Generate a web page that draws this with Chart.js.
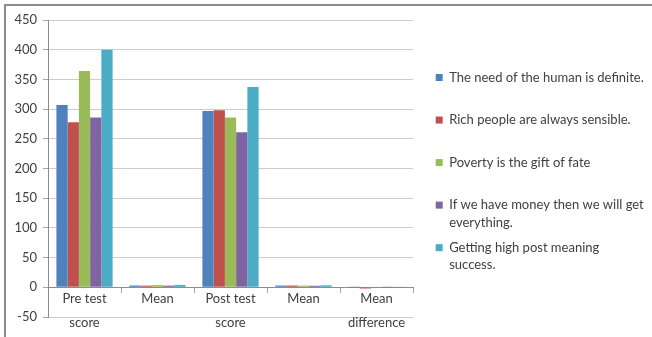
<!DOCTYPE html>
<html>
<head>
<meta charset="utf-8">
<title>Score chart</title>
<script src="https://cdn.jsdelivr.net/npm/chart.js@4/dist/chart.umd.min.js"></script>
<style>
    html, body { margin: 0; padding: 0; background: #fff; }
    #wrap { position: relative; width: 652px; height: 337px; }
</style>
</head>
<body>
<div id="wrap"><canvas id="scoreChart" width="652" height="337"></canvas></div>
<script>
// Categories on the x axis (multi-line labels as arrays)
const categories = [['Pre test', 'score'], 'Mean', ['Post test', 'score'], 'Mean', ['Mean', 'difference']];

// Statement labels for the legend
const statements = [
    'The need of the human is definite.',
    'Rich people are always sensible.',
    'Poverty is the gift of fate',
    ['If we have money then we will get', 'everything.'],
    ['Getting high post meaning', 'success.']
];

// Values per statement: pre score, mean, post score, mean, mean difference
const needValues = [307, 3.07, 297, 2.97, 0.1];
const richValues = [278, 2.78, 298, 2.98, -2];
const povertyValues = [364, 3.64, 286, 2.86, 0.78];
const moneyValues = [286, 2.86, 261, 2.61, 0.25];
const postValues = [400, 4.0, 337, 3.37, 0.63];

const yTicks = [-50, 0, 50, 100, 150, 200, 250, 300, 350, 400, 450];

const colors = ['#4F81BD', '#C0504D', '#9BBB59', '#8064A2', '#4BACC6'];
const seriesValues = [needValues, richValues, povertyValues, moneyValues, postValues];

Chart.defaults.font.family = 'Lato';
Chart.defaults.font.size = 13;
Chart.defaults.color = '#404040';

// Gray frame along the top and left edge
const framePlugin = {
    id: 'frame',
    beforeDraw(chart) {
        const ctx = chart.ctx;
        ctx.save();
        ctx.strokeStyle = '#8c8c8c';
        ctx.lineWidth = 2;
        ctx.beginPath();
        ctx.moveTo(5, chart.height);
        ctx.lineTo(5, 5);
        ctx.lineTo(chart.width, 5);
        ctx.stroke();
        ctx.restore();
    }
};

// Leave a gap between the plot and the legend, and nudge it down a bit
const legendGap = {
    id: 'legendGap',
    afterLayout(chart) {
        const lg = chart.legend;
        if (lg) {
            lg.left += 15;
            lg.right += 15;
            lg.top += 5;
            lg.bottom += 5;
        }
    }
};

new Chart(document.getElementById('scoreChart'), {
    type: 'bar',
    data: {
        labels: categories,
        datasets: statements.map((label, i) => ({
            label: label,
            data: seriesValues[i],
            backgroundColor: colors[i],
            borderWidth: 0,
            categoryPercentage: 0.77,
            barPercentage: 1
        }))
    },
    options: {
        responsive: false,
        animation: false,
        devicePixelRatio: 1,
        layout: {
            padding: { left: 0, top: 20, bottom: 20, right: 14 }
        },
        plugins: {
            tooltip: { enabled: false },
            legend: {
                position: 'right',
                align: 'center',
                maxWidth: 225,
                labels: {
                    boxWidth: 7,
                    boxHeight: 7,
                    padding: 7.7,
                    color: '#404040',
                    font: { size: 13, lineHeight: 1.34 },
                    // every entry takes two text lines so the rows are evenly spaced
                    generateLabels(chart) {
                        const items = Chart.defaults.plugins.legend.labels.generateLabels(chart);
                        items.forEach(item => {
                            const lines = Array.isArray(item.text) ? item.text.slice() : [item.text];
                            while (lines.length < 2) lines.push('');
                            item.text = lines;
                        });
                        return items;
                    }
                }
            }
        },
        scales: {
            x: {
                position: { y: 0 },
                grid: {
                    offset: true,
                    drawOnChartArea: false,
                    drawTicks: true,
                    tickLength: 5,
                    color: '#a6a6a6'
                },
                border: { display: true, color: '#8c8c8c', width: 1 },
                ticks: {
                    padding: -6,
                    maxRotation: 0,
                    autoSkip: false,
                    font: { size: 13, lineHeight: 1.85 }
                }
            },
            y: {
                min: -50,
                max: 450,
                afterBuildTicks(scale) {
                    scale.ticks = yTicks.map(v => ({ value: v }));
                },
                afterFit(scale) {
                    scale.width = 48;
                },
                grid: {
                    color: '#cccccc',
                    tickLength: 5,
                    tickColor: '#a6a6a6'
                },
                border: { display: true, color: '#8c8c8c', width: 1 },
                ticks: {
                    padding: 6,
                    font: { size: 13 }
                }
            }
        }
    },
    plugins: [framePlugin, legendGap]
});
</script>
</body>
</html>
